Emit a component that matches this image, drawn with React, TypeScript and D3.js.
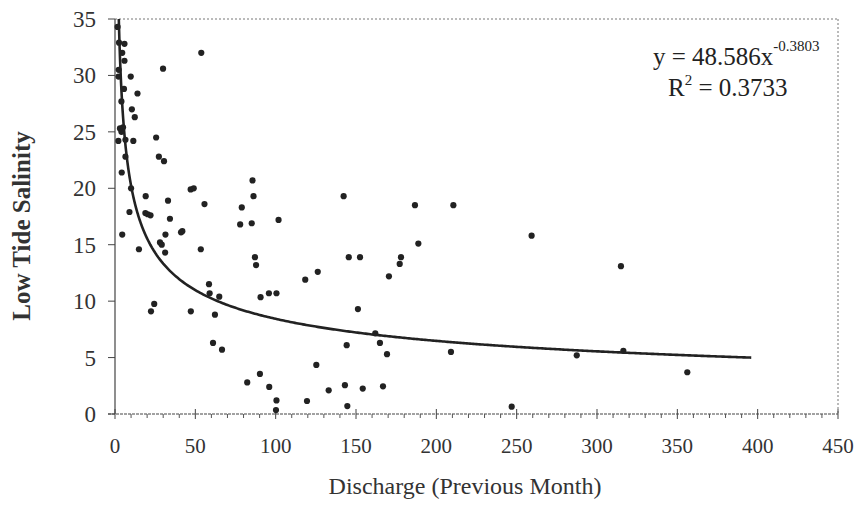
import React, { useEffect, useRef } from 'react';
import * as d3 from 'd3';

// discharge (previous month) vs low tide salinity
const discharge = [
  1.6, 2.5, 5.9, 4.5, 5.9, 2.3, 2.2, 9.8, 5.6, 14.0, 4.0, 10.5, 12.3, 3.1, 4.0, 5.0, 2.1, 6.5, 11.4, 6.5,
  4.2, 10.0, 19.1, 25.6, 27.3, 30.5, 29.9, 53.7, 47.1, 49.0, 85.6, 86.2, 33.0, 9.0, 18.9, 20.4, 22.1, 34.2, 55.7, 4.5,
  31.4, 41.1, 41.9, 28.0, 29.1, 14.9, 31.2, 53.4, 24.4, 22.4, 47.2, 58.5, 58.9, 64.9, 62.2, 61.0, 66.6, 78.9, 77.9, 85.1,
  101.8, 87.1, 87.8, 90.6, 95.8, 100.5, 82.3, 90.2, 96.0, 100.5, 100.2, 142.3, 186.7, 210.6, 259.3, 188.8, 145.5, 152.5, 178.0, 177.2,
  126.2, 118.4, 170.5, 151.2, 162.0, 164.9, 144.2, 169.3, 209.1, 287.4, 125.3, 133.0, 143.1, 154.2, 166.8, 119.5, 144.6, 246.9, 314.9, 316.4,
  356.2
];
const salinity = [
  34.3, 32.9, 32.8, 32.0, 31.3, 30.5, 29.9, 29.9, 28.8, 28.4, 27.7, 27.0, 26.3, 25.3, 25.0, 25.4, 24.2, 24.3, 24.2, 22.8,
  21.4, 20.0, 19.3, 24.5, 22.8, 22.4, 30.6, 32.0, 19.9, 20.0, 20.7, 19.3, 18.9, 17.9, 17.8, 17.7, 17.6, 17.3, 18.6, 15.9,
  15.9, 16.1, 16.2, 15.2, 15.0, 14.6, 14.3, 14.6, 9.75, 9.1, 9.1, 11.5, 10.7, 10.4, 8.8, 6.3, 5.7, 18.3, 16.8, 16.9,
  17.2, 13.9, 13.2, 10.35, 10.7, 10.7, 2.8, 3.55, 2.4, 1.2, 0.35, 19.3, 18.5, 18.5, 15.8, 15.1, 13.9, 13.9, 13.9, 13.3,
  12.6, 11.9, 12.2, 9.3, 7.15, 6.3, 6.1, 5.3, 5.5, 5.2, 4.35, 2.1, 2.55, 2.25, 2.45, 1.15, 0.7, 0.65, 13.1, 5.6,
  3.7
];

const xTicks = [0, 50, 100, 150, 200, 250, 300, 350, 400, 450];
const yTicks = [0, 5, 10, 15, 20, 25, 30, 35];

// power trendline from the chart label
const fitA = 48.586;
const fitB = -0.3803;
const fitR2 = 0.3733;
const fitRange = [2.37, 396];

const FONT = '"Liberation Serif", "Times New Roman", serif';

export default function App() {
  const ref = useRef(null);

  useEffect(() => {
    makeChart();
  }, []);

  const makeChart = () => {
    d3.select(ref.current).selectAll('*').remove();

    const W = 859, H = 505;
    const margin = { top: 19, right: 21, bottom: 91, left: 115 };
    const width = W - margin.left - margin.right;
    const height = H - margin.top - margin.bottom;

    const svg = d3.select(ref.current)
      .attr('width', W)
      .attr('height', H)
      .style('background', '#fff');

    const g = svg.append('g')
      .attr('transform', 'translate(' + margin.left + ',' + margin.top + ')');

    const x = d3.scaleLinear().domain([0, 450]).range([0, width]);
    const y = d3.scaleLinear().domain([0, 35]).range([height, 0]);

    // top and right frame (dotted)
    g.append('line')
      .attr('x1', 0).attr('x2', width).attr('y1', 0).attr('y2', 0)
      .attr('stroke', '#777').attr('stroke-width', 1).attr('stroke-dasharray', '2,2');
    g.append('line')
      .attr('x1', width).attr('x2', width).attr('y1', 0).attr('y2', height)
      .attr('stroke', '#777').attr('stroke-width', 1).attr('stroke-dasharray', '2,2');

    // x axis: major ticks cross, minor below
    const xAxis = g.append('g').attr('transform', 'translate(0,' + height + ')');
    xAxis.append('line')
      .attr('x1', -7).attr('x2', width)
      .attr('stroke', '#444').attr('stroke-width', 1).attr('stroke-dasharray', '3,1');
    xAxis.selectAll('.minor')
      .data(d3.range(0, 451, 10).filter(v => v % 50 !== 0))
      .enter().append('line')
      .attr('x1', d => x(d)).attr('x2', d => x(d))
      .attr('y1', 0).attr('y2', 4)
      .attr('stroke', '#555');
    xAxis.selectAll('.major')
      .data(xTicks)
      .enter().append('line')
      .attr('x1', d => x(d)).attr('x2', d => x(d))
      .attr('y1', -5).attr('y2', 5)
      .attr('stroke', '#444');
    xAxis.selectAll('.lbl')
      .data(xTicks)
      .enter().append('text')
      .attr('x', d => x(d))
      .attr('y', 39)
      .attr('text-anchor', 'middle')
      .attr('font-family', FONT)
      .attr('font-size', 21)
      .attr('fill', '#333')
      .text(d => d);

    // y axis
    const yAxis = g.append('g');
    yAxis.append('line')
      .attr('y1', 0).attr('y2', height)
      .attr('stroke', '#444').attr('stroke-width', 1.2);
    yAxis.selectAll('.major')
      .data(yTicks)
      .enter().append('line')
      .attr('x1', -7).attr('x2', 0)
      .attr('y1', d => y(d)).attr('y2', d => y(d))
      .attr('stroke', '#444');
    yAxis.selectAll('.lbl')
      .data(yTicks)
      .enter().append('text')
      .attr('x', -19)
      .attr('y', d => y(d))
      .attr('dy', '0.35em')
      .attr('text-anchor', 'end')
      .attr('font-family', FONT)
      .attr('font-size', 23)
      .attr('fill', '#333')
      .text(d => d);

    // axis titles
    svg.append('text')
      .attr('x', 465)
      .attr('y', 494)
      .attr('text-anchor', 'middle')
      .attr('font-family', FONT)
      .attr('font-size', 24)
      .attr('fill', '#333')
      .text('Discharge (Previous Month)');

    svg.append('text')
      .attr('transform', 'translate(30,226) rotate(-90)')
      .attr('text-anchor', 'middle')
      .attr('font-family', FONT)
      .attr('font-size', 25)
      .attr('font-weight', 'bold')
      .attr('fill', '#333')
      .text('Low Tide Salinity');

    // points
    const pts = discharge.map((d, i) => [d, salinity[i]]);
    g.selectAll('.pt')
      .data(pts)
      .enter().append('circle')
      .attr('cx', d => x(d[0]))
      .attr('cy', d => y(d[1]))
      .attr('r', 3.1)
      .attr('fill', '#222');

    // trendline
    const xs = d3.range(fitRange[0], 20, 0.1).concat(d3.range(20, fitRange[1] + 0.1, 1));
    g.append('path')
      .datum(xs)
      .attr('fill', 'none')
      .attr('stroke', '#222')
      .attr('stroke-width', 2.6)
      .attr('d', d3.line()
        .x(d => x(d))
        .y(d => y(fitA * Math.pow(d, fitB))));

    // equation label
    const eq = svg.append('text')
      .attr('x', 653)
      .attr('y', 65)
      .attr('font-family', FONT)
      .attr('font-size', 25)
      .attr('fill', '#222');
    eq.append('tspan').text('y = ' + fitA + 'x');
    eq.append('tspan')
      .attr('dy', -14)
      .attr('font-size', 15)
      .text(fitB);

    const r2 = svg.append('text')
      .attr('x', 668)
      .attr('y', 96)
      .attr('font-family', FONT)
      .attr('font-size', 25)
      .attr('fill', '#222');
    r2.append('tspan').text('R');
    r2.append('tspan').attr('dy', -11).attr('font-size', 15).text('2');
    r2.append('tspan').attr('dy', 11).text(' = ' + fitR2);
  };

  return (
    <div style={{ position: 'absolute', left: 0, top: 0 }}>
      <svg ref={ref}></svg>
    </div>
  );
}
